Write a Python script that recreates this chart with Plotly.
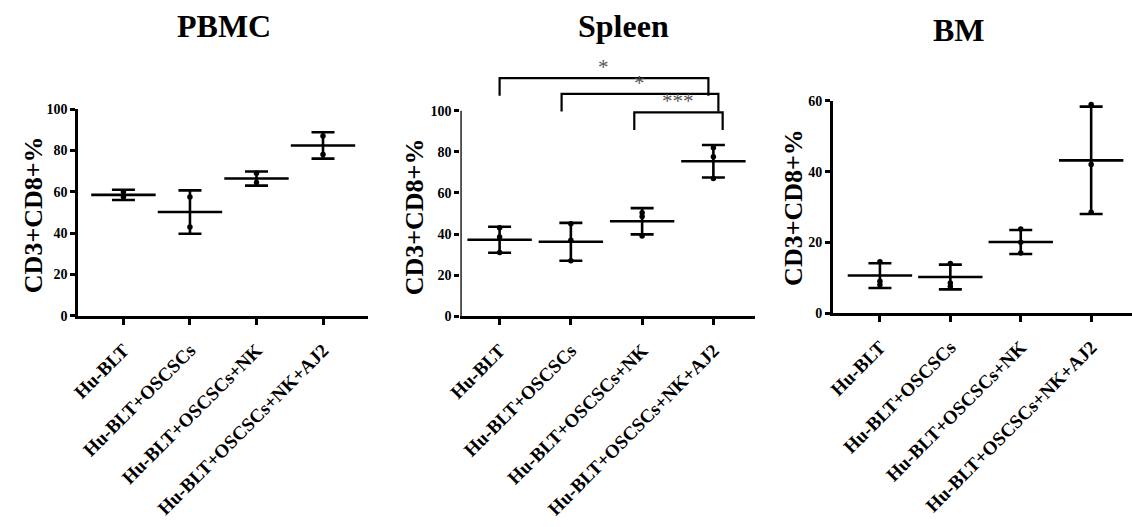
import plotly.graph_objects as go

# ---------------- data ----------------
categories = ["Hu-BLT", "Hu-BLT+OSCSCs", "Hu-BLT+OSCSCs+NK", "Hu-BLT+OSCSCs+NK+AJ2"]
panel_titles = ["PBMC", "Spleen", "BM"]
y_title = "CD3+CD8+%"

pbmc_mean = [58.5, 50.2, 66.4, 82.4]
pbmc_sd = [2.5, 10.5, 3.4, 6.4]
pbmc_points = [[60.0, 57.5], [57.5, 43.0], [69.0, 64.5], [87.0, 78.0]]

spleen_mean = [37.2, 36.2, 46.2, 75.4]
spleen_sd = [6.3, 9.2, 6.4, 7.9]
spleen_points = [[43.0, 38.6, 31.0], [45.0, 37.0, 27.0], [50.4, 48.5, 39.0], [82.0, 77.6, 67.0]]

bm_mean = [10.6, 10.2, 20.1, 43.2]
bm_sd = [3.5, 3.5, 3.4, 15.2]
bm_points = [[14.5, 9.0, 8.0], [14.0, 8.5, 7.5], [23.8, 20.0, 17.0], [59.0, 42.0, 28.5]]

pct_ticks = [0, 20, 40, 60, 80, 100]
bm_ticks = [0, 20, 40, 60]

sig_pairs = [(0, 3), (1, 3), (2, 3)]
sig_labels = ["*", "*", "***"]
sig_heights = [115.8, 108.2, 99.2]

# ---------------- style / layout ----------------
W, H = 1132, 527
FONT = "Liberation Serif, Times New Roman, serif"
bracket_offsets = [(0.0, -0.07), (-0.13, 0.07), (-0.11, 0.13)]
bracket_drop = 8.6


def xdom(a, b):
    return [a / W, b / W]


def ydom(bottom_px, top_px):
    return [1 - bottom_px / H, 1 - top_px / H]


panels = [
    dict(mean=pbmc_mean, sd=pbmc_sd, pts=pbmc_points, ticks=pct_ticks,
         xd=xdom(65, 358), yd=ydom(318, 105), xr=[-0.68, 3.67], yr=[0, 100],
         title_xy=(212.5, 20), ytitle_xy=(20.5, 214), own_line=False),
    dict(mean=spleen_mean, sd=spleen_sd, pts=spleen_points, ticks=pct_ticks,
         xd=xdom(452, 750), yd=ydom(318.3, 318.3 - 120 * 2.116), xr=[-0.55, 3.58], yr=[0, 120],
         title_xy=(617, 20), ytitle_xy=(405.5, 216), own_line=True),
    dict(mean=bm_mean, sd=bm_sd, pts=bm_points, ticks=bm_ticks,
         xd=xdom(829, 1132), yd=ydom(315, 96.7), xr=[-0.67, 3.58], yr=[0, 60],
         title_xy=(957, 24), ytitle_xy=(788.5, 206), own_line=False),
]

fig = go.Figure()
idx = list(range(len(categories)))
annotations = []
shapes = []

for i, p in enumerate(panels):
    n = "" if i == 0 else str(i + 1)
    xa, ya = "x" + n, "y" + n
    # mean line + SD error bars
    fig.add_trace(go.Scatter(
        x=idx, y=p["mean"], mode="markers", xaxis=xa, yaxis=ya,
        marker=dict(symbol="line-ew", size=46, color="black",
                    line=dict(color="black", width=2.6)),
        error_y=dict(type="data", array=p["sd"], symmetric=True,
                     color="black", thickness=2.6, width=11.5),
        showlegend=False, hoverinfo="skip"))
    # individual points
    px_, py_ = [], []
    for k, vals in enumerate(p["pts"]):
        for v in vals:
            px_.append(idx[k])
            py_.append(v)
    fig.add_trace(go.Scatter(
        x=px_, y=py_, mode="markers", xaxis=xa, yaxis=ya,
        marker=dict(symbol="circle", size=5.5, color="black"),
        showlegend=False, hoverinfo="skip"))

    axis_font = dict(family=FONT, size=14, color="black", weight="bold")
    fig.update_layout({
        "xaxis" + n: dict(domain=p["xd"], range=p["xr"], anchor=ya,
                          tickmode="array", tickvals=idx, ticktext=categories,
                          tickangle=-45, ticks="outside", ticklen=6, tickwidth=2.5,
                          tickcolor="black", showline=True, linewidth=2.6,
                          linecolor="black", showgrid=False, zeroline=False,
                          ticklabelstandoff=7,
                          tickfont=dict(family=FONT, size=19, color="black", weight="bold")),
        "yaxis" + n: dict(domain=p["yd"], range=p["yr"], anchor=xa,
                          tickmode="array", tickvals=p["ticks"],
                          ticks="outside", ticklen=5, tickwidth=2.5, tickcolor="black",
                          showline=not p["own_line"], linewidth=2.6, linecolor="black",
                          showgrid=False, zeroline=False, tickfont=axis_font,
                          ticklabelstandoff=0),
    })
    if p["own_line"]:
        shapes.append(dict(type="line", xref=xa, yref=ya,
                           x0=p["xr"][0], x1=p["xr"][0], y0=0, y1=max(p["ticks"]),
                           line=dict(color="black", width=2.6)))

    tx, ty = p["title_xy"]
    annotations.append(dict(text=panel_titles[i], xref="paper", yref="paper",
                            x=tx / W, y=1 - ty / H, xanchor="center", yanchor="middle",
                            showarrow=False,
                            font=dict(family=FONT, size=32, color="black", weight="bold")))
    yx, yy = p["ytitle_xy"]
    annotations.append(dict(text=y_title, xref="paper", yref="paper",
                            x=yx / W, y=1 - yy / H, xanchor="center", yanchor="middle",
                            textangle=-90, showarrow=False,
                            font=dict(family=FONT, size=26, color="black", weight="bold")))

# significance brackets on Spleen
for (a, b), lab, h, (oa, ob) in zip(sig_pairs, sig_labels, sig_heights, bracket_offsets):
    l, r = a + oa, b + ob
    fig.add_trace(go.Scatter(
        x=[l, l, r, r], y=[h - bracket_drop, h, h, h - bracket_drop],
        mode="lines", xaxis="x2", yaxis="y2",
        line=dict(color="black", width=2.2),
        showlegend=False, hoverinfo="skip"))
    annotations.append(dict(text=lab, xref="x2", yref="y2", x=(l + r) / 2, y=h,
                            xanchor="center", yanchor="bottom", showarrow=False,
                            yshift=-3,
                            font=dict(family=FONT, size=21, color="#555555")))

fig.update_layout(
    width=W, height=H,
    margin=dict(l=0, r=0, t=0, b=0),
    paper_bgcolor="white", plot_bgcolor="white",
    showlegend=False,
    annotations=annotations, shapes=shapes,
)

fig.write_html("out.html")
